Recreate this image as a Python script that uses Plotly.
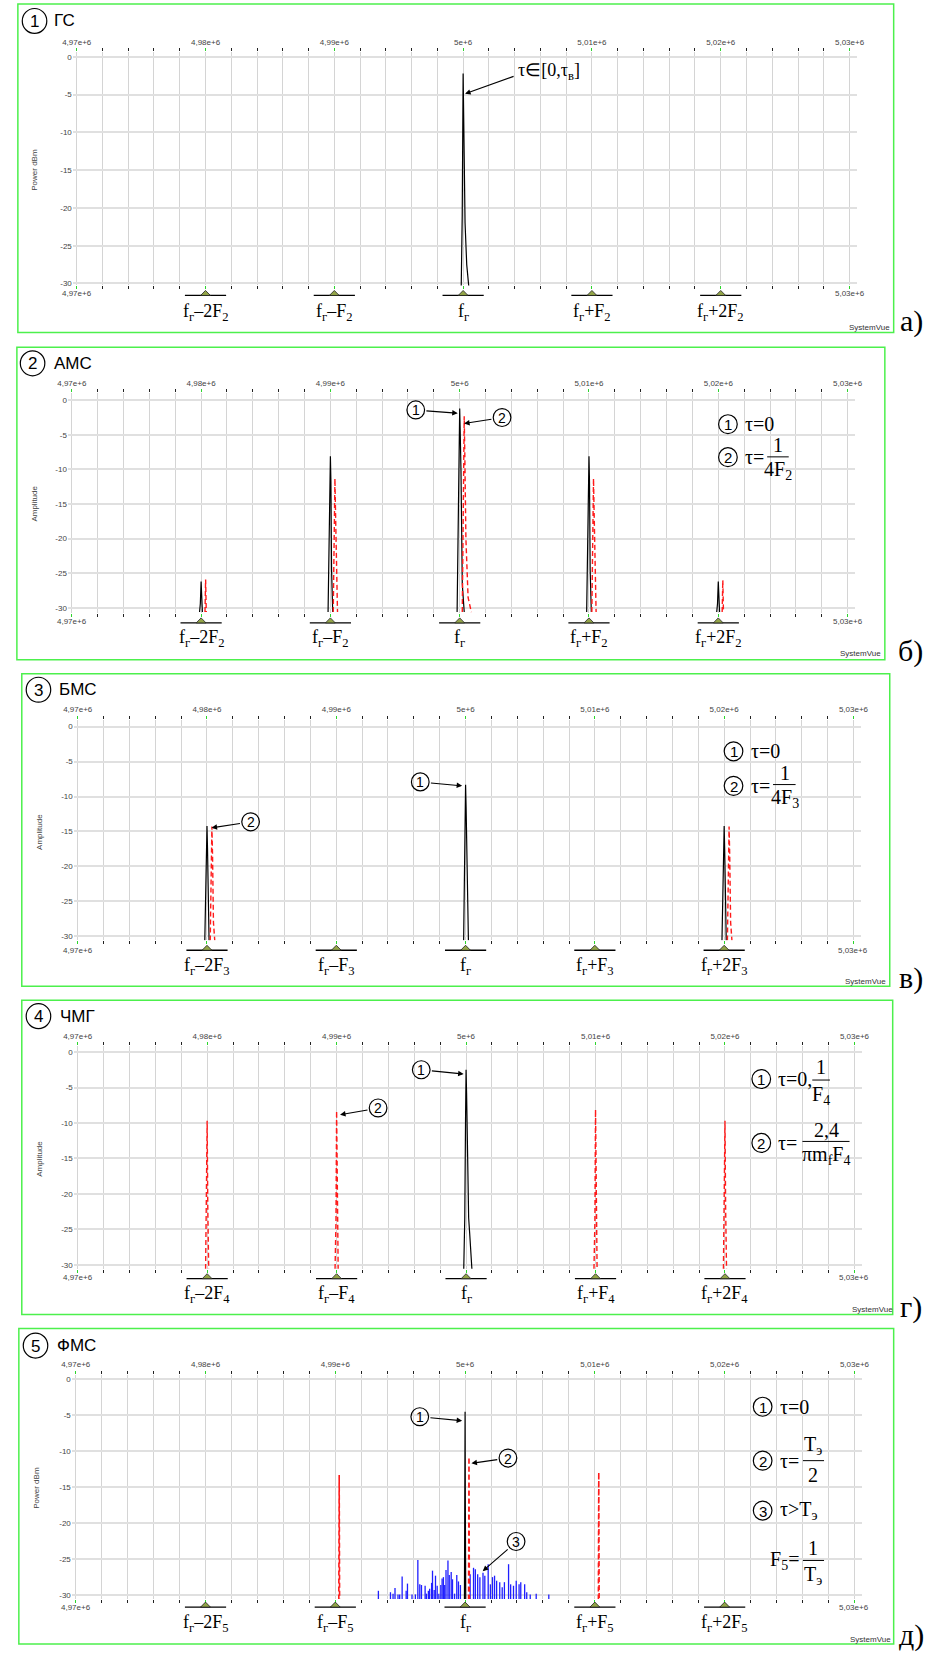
import plotly.graph_objects as go

W, H = 935, 1653
F_MIN, F_MAX = 4.97e6, 5.03e6
FLOOR = -30.6
SANS = "Liberation Sans"
SERIF = "Liberation Serif"

# ---------------- data ----------------
major_f = [4.97e6, 4.98e6, 4.99e6, 5.00e6, 5.01e6, 5.02e6, 5.03e6]
major_txt = ["4,97e+6", "4,98e+6", "4,99e+6", "5e+6", "5,01e+6", "5,02e+6", "5,03e+6"]
marker_f = [4.98e6, 4.99e6, 5.00e6, 5.01e6, 5.02e6]
db_ticks = [0, -5, -10, -15, -20, -25, -30]
db_txt = ["0", "-5", "-10", "-15", "-20", "-25", "-30"]

# (1) ГС - single carrier
gs_f = [4999850, 4999930, 5000000, 5000030, 5000070, 5000150, 5000280, 5000450]
gs_db = [-30.6, -21.0, -2.2, -5.2, -10.5, -22.0, -27.5, -30.6]

# (2) АМС
ams_blk_f = [4979880, 4979940, 4980000, 4980040, 4980100, None,
             4989820, 4989880, 4989950, 4990000, 4990040, 4990090, 4990180, None,
             4999800, 4999860, 4999950, 5000000, 5000040, 5000100, 5000200, 5000350, None,
             5009820, 5009880, 5009950, 5010000, 5010040, 5010090, 5010180, None,
             5019880, 5019940, 5020000, 5020040, 5020100]
ams_blk_db = [-30.6, -29.4, -26.2, -29.6, -30.6, None,
              -30.6, -23.8, -13.5, -8.1, -11.8, -24.5, -30.6, None,
              -30.6, -21.6, -4.5, -1.2, -4.5, -10.2, -26.5, -30.6, None,
              -30.6, -23.8, -13.5, -8.1, -11.8, -24.5, -30.6, None,
              -30.6, -29.4, -26.2, -29.6, -30.6]
ams_red_f = [4980300, 4980350, 4980400, None,
             4990220, 4990280, 4990350, 4990400, 4990480, 4990550, None,
             5000200, 5000280, 5000350, 5000400, 5000480, 5000650, 5000900, None,
             5010220, 5010280, 5010350, 5010400, 5010480, 5010550, None,
             5020300, 5020350, 5020400]
ams_red_db = [-30.6, -25.9, -30.6, None,
              -30.6, -16.0, -11.3, -16.5, -28.0, -30.6, None,
              -30.6, -8.0, -2.3, -8.5, -20.0, -28.5, -30.6, None,
              -30.6, -16.0, -11.3, -16.5, -28.0, -30.6, None,
              -30.6, -26.0, -30.6]

# (3) БМС
bms_blk_f = [4979830, 4979900, 4980000, 4980040, 4980090, 4980160, None,
             4999850, 4999930, 5000000, 5000040, 5000080, 5000140, 5000220, None,
             5019830, 5019900, 5020000, 5020040, 5020090, 5020160]
bms_blk_db = [-30.6, -20.4, -14.2, -17.4, -24.0, -30.6, None,
              -30.6, -15.0, -8.3, -11.5, -15.5, -27.0, -30.6, None,
              -30.6, -20.4, -14.2, -17.6, -27.0, -30.6]
bms_red_f = [4980250, 4980320, 4980380, 4980430, 4980500, 4980600, None,
             5020250, 5020320, 5020380, 5020430, 5020500, 5020600]
bms_red_db = [-30.6, -18.0, -14.3, -18.5, -28.0, -30.6, None,
              -30.6, -18.0, -14.3, -18.5, -28.0, -30.6]

# (4) ЧМГ
chmg_blk_f = [4999820, 4999900, 4999960, 5000000, 5000040, 5000100, 5000200, 5000280, 5000450]
chmg_blk_db = [-30.6, -23.4, -9.5, -2.5, -5.8, -15.0, -23.4, -25.6, -30.6]
chmg_red_f = [4979880, 4979950, 4980000, 4980050, 4980120, None,
              4989880, 4989950, 4990000, 4990050, 4990120, None,
              5009880, 5009950, 5010000, 5010050, 5010120, None,
              5019880, 5019950, 5020000, 5020050, 5020120]
chmg_red_db = [-30.6, -22.0, -9.7, -22.0, -30.6, None,
               -30.6, -24.0, -8.3, -24.0, -30.6, None,
               -30.6, -24.0, -8.1, -24.0, -30.6, None,
               -30.6, -22.0, -9.7, -22.0, -30.6]

# (5) ФМС
fms_blk_f = [4999950, 4999980, 5000000, 5000020, 5000050]
fms_blk_db = [-30.6, -17.6, -4.5, -17.6, -30.6]
fms_red_f = [4990270, 4990300, 4990330, None,
             5000270, 5000300, 5000330, None,
             5010270, 5010300, 5010330]
fms_red_db = [-30.6, -13.3, -30.6, None,
              -30.6, -10.8, -30.6, None,
              -30.6, -12.9, -30.6]
fms_noise_f = [4993320, 4994250, 4994450, 4994600, 4994830, 4994960, 4995150, 4995460,
               4995560, 4995910, 4996170, 4996360, 4996510, 4996640, 4996920, 4997020,
               4997170, 4997270, 4997420, 4997490, 4997620, 4997720, 4997850, 4997980,
               4998130, 4998230, 4998330, 4998430, 4998530, 4998680, 4998780, 4998930,
               4999030, 4999190, 4999360, 4999490, 4999640,
               5000390, 5000650, 5000790, 5000970, 5001140, 5001380, 5001520, 5001780,
               5001950, 5002110, 5002270, 5002430, 5002670, 5002860, 5003030, 5003350,
               5003510, 5003730, 5003940, 5004160, 5004290, 5004590, 5004750, 5005020,
               5005480, 5006450]
fms_noise_db = [-29.4, -29.6, -29.8, -29.0, -29.9, -29.9, -27.4, -29.4,
                -28.4, -29.9, -29.9, -25.1, -28.5, -28.6, -28.7, -29.8,
                -29.4, -29.1, -28.3, -26.6, -29.3, -27.3, -28.7, -29.8,
                -28.6, -27.7, -27.5, -28.6, -26.5, -25.2, -27.2, -26.8,
                -27.8, -29.8, -27.2, -28.1, -28.6,
                -27.1, -26.2, -26.4, -27.1, -27.5, -26.9, -27.3, -25.7,
                -28.5, -27.5, -27.3, -28.0, -28.2, -28.9, -28.2, -25.7,
                -28.5, -28.7, -28.0, -28.5, -28.2, -28.5, -29.6, -29.9,
                -29.8, -29.9]

# ---------------- panel geometry (pixels) ----------------
panels = [
    dict(box=(7, 4, 900, 333), x0=67, x1=855, y0=57, y30=284, top=52, bot=286,
         tc=(24, 21), name="ГС", name_x=42, ytitle="Power dBm", yt_x=24,
         botlab_y=294, line_y=296, lab_y=313, k=2, sv=(875, 328), letter="а)", let_pos=(918, 322)),
    dict(box=(6, 348, 891, 661), x0=62, x1=853, y0=401, y30=609, top=394, bot=614,
         tc=(22, 364), name="АМС", name_x=42, ytitle="Amplitude", yt_x=24,
         botlab_y=623, line_y=624, lab_y=640, k=2, sv=(866, 655), letter="б)", let_pos=(917, 652)),
    dict(box=(11, 675, 896, 988), x0=68, x1=859, y0=728, y30=938, top=721, bot=942,
         tc=(28, 691), name="БМС", name_x=47, ytitle="Amplitude", yt_x=29,
         botlab_y=952, line_y=952, lab_y=968, k=3, sv=(871, 983), letter="в)", let_pos=(918, 980)),
    dict(box=(11, 1002, 899, 1317), x0=68, x1=860, y0=1054, y30=1267, top=1048, bot=1271,
         tc=(28, 1018), name="ЧМГ", name_x=48, ytitle="Amplitude", yt_x=29,
         botlab_y=1280, line_y=1281, lab_y=1297, k=4, sv=(878, 1312), letter="г)", let_pos=(918, 1309)),
    dict(box=(8, 1331, 900, 1647), x0=66, x1=860, y0=1382, y30=1598, top=1377, bot=1602,
         tc=(25, 1348), name="ФМС", name_x=45, ytitle="Power dBm", yt_x=26,
         botlab_y=1610, line_y=1610, lab_y=1626, k=5, sv=(876, 1642), letter="д)", let_pos=(918, 1638)),
]

fig = go.Figure()
shapes, annots = [], []


def fx(p, f):
    return p["x0"] + (f - F_MIN) * (p["x1"] - p["x0"]) / (F_MAX - F_MIN)


def text(x, y, s, size, family=SERIF, xanchor="center", color="black", angle=0, yanchor="middle"):
    annots.append(dict(x=x / W, y=1 - y / H, xref="paper", yref="paper", text=s, showarrow=False,
                       font=dict(family=family, size=size, color=color), xanchor=xanchor,
                       yanchor=yanchor, textangle=angle))


def circle(cx, cy, r, w=1.2):
    shapes.append(dict(type="circle", xref="paper", yref="paper", x0=(cx - r) / W, x1=(cx + r) / W,
                       y0=1 - (cy + r) / H, y1=1 - (cy - r) / H, line=dict(color="black", width=w)))


def hline(xa, xb, y, w=1.0, color="black"):
    shapes.append(dict(type="line", xref="paper", yref="paper", x0=xa / W, x1=xb / W,
                       y0=1 - y / H, y1=1 - y / H, line=dict(color=color, width=w)))


def arrow(hx, hy, tx, ty, start=0):
    annots.append(dict(x=hx / W, y=1 - hy / H, ax=tx - hx, ay=ty - hy, xref="paper", yref="paper",
                       axref="pixel", ayref="pixel", text="", showarrow=True, arrowhead=2,
                       arrowsize=1.0, arrowwidth=1.1, arrowcolor="black", startstandoff=start, standoff=0))


def num(cx, cy, r, d, size):
    circle(cx, cy, r)
    text(cx, cy + 0.5, d, size, SANS)


def frac(cx, ytop, yline, ybot, top_s, bot_s, xa, xb, size=20):
    text(cx, ytop, top_s, size)
    hline(xa, xb, yline, 1.0)
    text(cx, ybot, bot_s, size)


layout_axes = {}
for i, p in enumerate(panels, start=1):
    ppx = (p["x1"] - p["x0"]) / (F_MAX - F_MIN)
    ppd = (p["y30"] - p["y0"]) / 30.0
    sfx = "" if i == 1 else str(i)
    layout_axes["xaxis" + sfx] = dict(
        domain=[(p["x0"] - 4) / W, (p["x1"] + 8) / W],
        range=[F_MIN - 4 / ppx, F_MAX + 8 / ppx],
        anchor="y" + sfx, side="top", tickmode="array", tickvals=major_f, ticktext=major_txt,
        ticks="outside", ticklen=3, tickwidth=1, tickcolor="#2bd62b",
        showgrid=True, gridcolor="#d4d4d4", gridwidth=1, zeroline=False, showline=False,
        mirror="ticks", tickfont=dict(family=SANS, size=8, color="#444"),
        minor=dict(tickmode="linear", tick0=F_MIN, dtick=2000, ticks="outside", ticklen=3,
                   tickwidth=1, tickcolor="#222", showgrid=True, gridcolor="#d4d4d4", gridwidth=1),
        fixedrange=True)
    layout_axes["yaxis" + sfx] = dict(
        domain=[1 - p["bot"] / H, 1 - p["top"] / H],
        range=[-30 - (p["bot"] - p["y30"]) / ppd, (p["y0"] - p["top"]) / ppd],
        anchor="x" + sfx, tickmode="array", tickvals=db_ticks, ticktext=db_txt, ticks="",
        showgrid=True, gridcolor="#e0e0e0", gridwidth=2, zeroline=False, showline=False,
        tickfont=dict(family=SANS, size=8, color="#444"), fixedrange=True)

    # box
    bx0, by0, bx1, by1 = p["box"]
    shapes.append(dict(type="rect", xref="paper", yref="paper", x0=bx0 / W, x1=bx1 / W,
                       y0=1 - by1 / H, y1=1 - by0 / H, line=dict(color="#4cf04c", width=1.5)))
    # title
    num(p["tc"][0], p["tc"][1], 12.5, str(i), 17)
    text(p["name_x"], p["tc"][1], p["name"], 17, SANS, xanchor="left")
    # y title
    text(p["yt_x"], (p["y0"] + p["y30"]) / 2, p["ytitle"], 8, SANS, color="#444", angle=-90)
    # bottom axis end labels
    text(p["x0"], p["botlab_y"], major_txt[0], 8, SANS, color="#444")
    text(p["x1"], p["botlab_y"], major_txt[-1], 8, SANS, color="#444")
    # frequency markers and labels
    k = p["k"]
    labs = [f"f<sub>г</sub>–2F<sub>{k}</sub>", f"f<sub>г</sub>–F<sub>{k}</sub>", "f<sub>г</sub>",
            f"f<sub>г</sub>+F<sub>{k}</sub>", f"f<sub>г</sub>+2F<sub>{k}</sub>"]
    for f, lab in zip(marker_f, labs):
        cx = fx(p, f)
        ly = p["line_y"]
        hline(cx - 21, cx + 21, ly, 1.3)
        path = "M {:.5f},{:.5f} L {:.5f},{:.5f} L {:.5f},{:.5f} Z".format(
            (cx - 5) / W, 1 - ly / H, cx / W, 1 - (ly - 5) / H, (cx + 5) / W, 1 - ly / H)
        shapes.append(dict(type="path", xref="paper", yref="paper", path=path,
                           fillcolor="#93a548", line=dict(color="#222", width=0.8)))
        text(cx, p["lab_y"], lab, 18)
    # SystemVue mark and letter
    text(p["sv"][0], p["sv"][1], "SystemVue", 8, SANS, color="#333")
    text(p["let_pos"][0], p["let_pos"][1], p["letter"], 30)


def line_trace(i, xs, ys, color, dash=None, width=1.0):
    sfx = "" if i == 1 else str(i)
    fig.add_trace(go.Scatter(x=xs, y=ys, mode="lines", xaxis="x" + sfx, yaxis="y" + sfx,
                             line=dict(color=color, width=width, dash=dash),
                             connectgaps=False, hoverinfo="skip"))


RED = "#ff1a1a"
RDASH = "5px,3px"
line_trace(1, gs_f, gs_db, "black", width=1.2)
line_trace(2, ams_blk_f, ams_blk_db, "black", width=1.2)
line_trace(2, ams_red_f, ams_red_db, RED, RDASH, 1.4)
line_trace(3, bms_blk_f, bms_blk_db, "black", width=1.2)
line_trace(3, bms_red_f, bms_red_db, RED, RDASH, 1.4)
line_trace(4, chmg_blk_f, chmg_blk_db, "black", width=1.2)
line_trace(4, chmg_red_f, chmg_red_db, RED, RDASH, 1.4)

# noise bars in panel 5 (stems from the floor)
nx, ny = [], []
for f, v in zip(fms_noise_f, fms_noise_db):
    nx += [f, f, None]
    ny += [FLOOR, v, None]
line_trace(5, nx, ny, "#1f1fff", width=1.3)
line_trace(5, fms_blk_f, fms_blk_db, "black", width=1.2)
line_trace(5, fms_red_f, fms_red_db, RED, RDASH, 1.6)

# ---------------- annotations: arrows and formulas ----------------
# panel 1
arrow(463, 94, 513, 76)
text(515, 72, "τ∈[0,τ<sub>в</sub>]", 18, xanchor="left")

# panel 2
num(412.7, 410.7, 9, "1", 14); arrow(455.5, 414, 412.7, 410.7, 10)
num(500.7, 418.3, 9, "2", 14); arrow(462, 424.3, 500.7, 418.3, 10)
num(731, 425, 9.5, "1", 15); text(746, 425, "τ=0", 20, xanchor="left")
num(731, 458, 9.5, "2", 15); text(746, 458, "τ=", 20, xanchor="left")
frac(782, 446, 457.7, 471, "1", "4F<sub>2</sub>", 771, 793)

# panel 3
num(417.3, 783.3, 9, "1", 14); arrow(460, 787.3, 417.3, 783.3, 10)
num(244.3, 823.3, 9, "2", 14); arrow(204.5, 829.3, 244.3, 823.3, 10)
num(736.7, 752.7, 9.5, "1", 15); text(752, 752.7, "τ=0", 20, xanchor="left")
num(736.7, 787.3, 9.5, "2", 15); text(752, 787.3, "τ=", 20, xanchor="left")
frac(789, 774, 786, 800, "1", "4F<sub>3</sub>", 777, 800)

# panel 4
num(418.3, 1071.7, 9, "1", 14); arrow(461.5, 1076, 418.3, 1071.7, 10)
num(374.3, 1110, 9, "2", 14); arrow(335.5, 1116.7, 374.3, 1110, 10)
num(765, 1081, 9.5, "1", 15); text(780, 1081, "τ=0,", 20, xanchor="left")
frac(826, 1069, 1082, 1097, "1", "F<sub>4</sub>", 817, 835)
num(765, 1145, 9.5, "2", 15); text(780, 1145, "τ=", 20, xanchor="left")
frac(831, 1132, 1143.5, 1158, "2,4", "πm<sub>f</sub>F<sub>4</sub>", 807, 855)

# panel 5
num(416.8, 1419.3, 9, "1", 14); arrow(460, 1423.3, 416.8, 1419.3, 10)
num(506.7, 1460.7, 9, "2", 14); arrow(469.5, 1466, 506.7, 1460.7, 10)
num(515, 1544.3, 9, "3", 14); arrow(481, 1574, 515, 1544.3, 10)
num(766.4, 1409.3, 9.5, "1", 15); text(782, 1409.3, "τ=0", 20, xanchor="left")
num(766.4, 1463.3, 9.5, "2", 15); text(782, 1463.3, "τ=", 20, xanchor="left")
frac(817.5, 1448, 1463.3, 1478, "T<sub>э</sub>", "2", 807.5, 829)
num(766.4, 1513.3, 9.5, "3", 15); text(782, 1513.3, "τ>T<sub>э</sub>", 20, xanchor="left")
text(806, 1563.3, "F<sub>5</sub>=", 20, xanchor="right")
frac(817.5, 1550.7, 1563.3, 1578.3, "1", "T<sub>э</sub>", 807.5, 829)

fig.update_layout(width=W, height=H, margin=dict(l=0, r=0, t=0, b=0),
                  paper_bgcolor="white", plot_bgcolor="white", showlegend=False,
                  shapes=shapes, annotations=annots, **layout_axes)

fig.write_html("out.html")
